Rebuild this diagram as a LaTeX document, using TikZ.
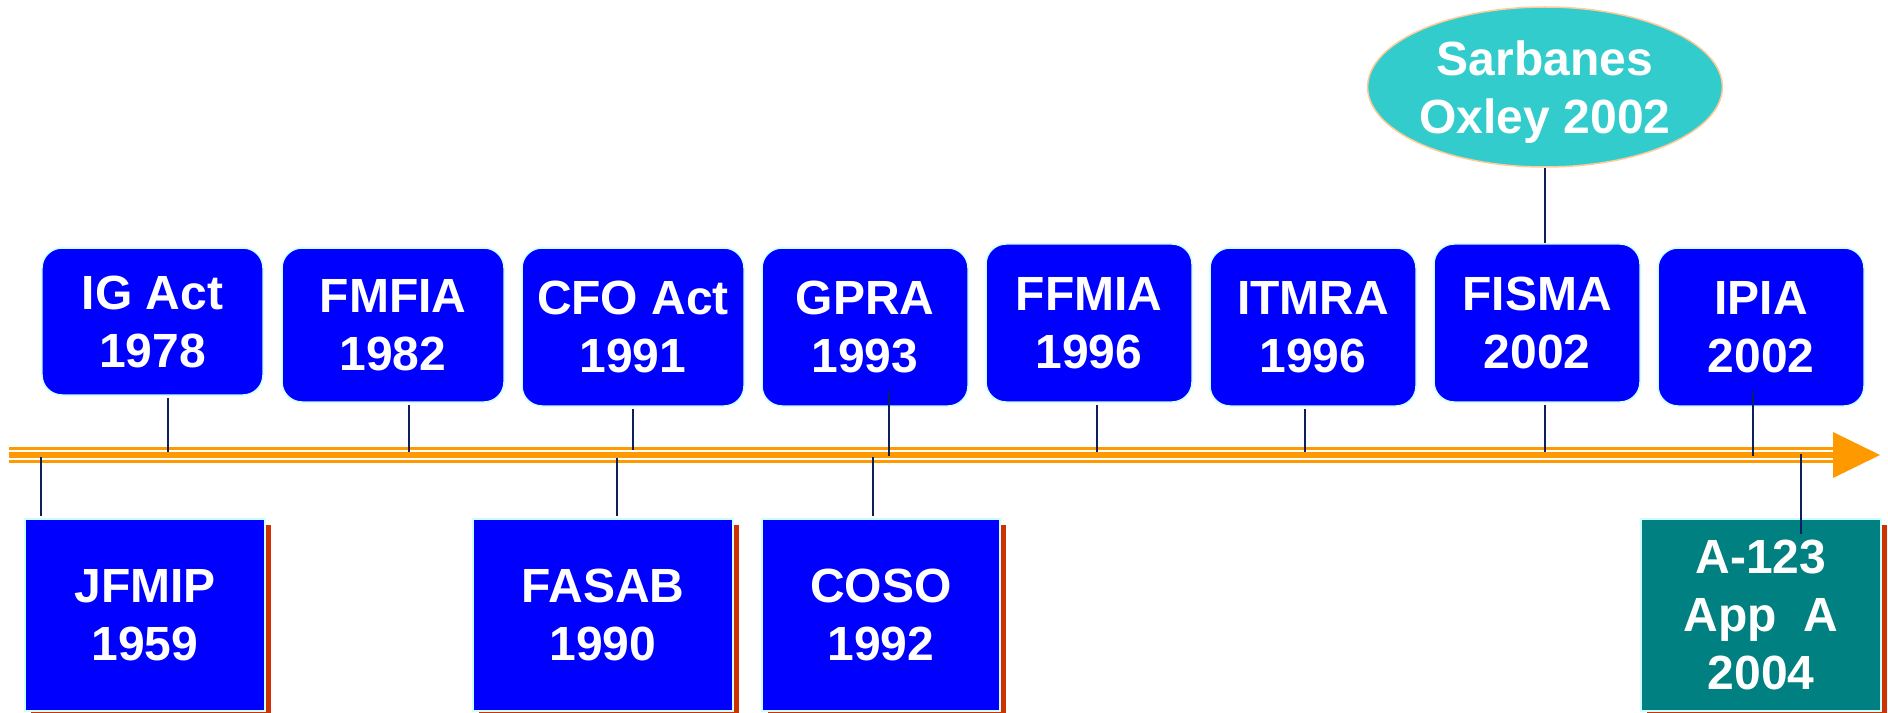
\documentclass[tikz,border=0pt]{standalone}
\usepackage{fontspec}
\setmainfont{Liberation Sans}
\usetikzlibrary{shapes.geometric,shadows}
\definecolor{boxblue}{HTML}{0000FF}
\definecolor{boxedge}{HTML}{CCFFFF}
\definecolor{tlorange}{HTML}{FF9900}
\definecolor{connnavy}{HTML}{0D1F5C}
\definecolor{shadowred}{HTML}{CC3300}
\definecolor{tealbox}{HTML}{008080}
\definecolor{ellfill}{HTML}{33CCCC}
\definecolor{elledge}{HTML}{FFCC99}
\begin{document}
\begin{tikzpicture}[x=1bp,y=-1bp,
  lbl/.style={text=white,font=\fontsize{48bp}{58bp}\selectfont\bfseries,align=center,inner sep=0pt},
  topbox/.style={lbl,draw=boxedge,line width=1.5bp,fill=boxblue,rounded corners=20bp},
  botbox/.style={lbl,draw=boxedge,line width=1.5bp,fill=boxblue,
    drop shadow={shadow xshift=6bp,shadow yshift=-6bp,fill=shadowred,opacity=1}},
  conn/.style={draw=connnavy,line width=2bp},
  tlline/.style={draw=tlorange}]
\useasboundingbox (0,0) rectangle (1888,713);

% timeline
\coordinate (tlS) at (9,455);
\coordinate (tlE) at (1833,455);
\draw[tlline,line width=2.6bp] ([yshift=6.5bp]tlS) -- ([yshift=6.5bp]tlE);
\draw[tlline,line width=5.4bp] (tlS) -- (tlE);
\draw[tlline,line width=2.4bp] ([yshift=-6.3bp]tlS) -- ([yshift=-6.3bp]tlE);
\fill[tlorange] (1833,432) -- (1880,455) -- (1833,478) -- cycle;

% top boxes
\node[topbox,minimum width=221bp,minimum height=147bp] (ig) at (152.5,321.5) {IG Act\\1978};
\node[topbox,minimum width=222bp,minimum height=154bp] (fmfia) at (393,325) {FMFIA\\1982};
\node[topbox,minimum width=222bp,minimum height=158bp] (cfo) at (633,327) {CFO Act\\1991};
\node[topbox,minimum width=206bp,minimum height=158bp] (gpra) at (865,327) {GPRA\\1993};
\node[topbox,minimum width=206bp,minimum height=158bp] (ffmia) at (1089,323) {FFMIA\\1996};
\node[topbox,minimum width=206bp,minimum height=158bp] (itmra) at (1313,327) {ITMRA\\1996};
\node[topbox,minimum width=206bp,minimum height=158bp] (fisma) at (1537,323) {FISMA\\2002};
\node[topbox,minimum width=206bp,minimum height=158bp] (ipia) at (1761,327) {IPIA\\2002};

% ellipse
\node[lbl,ellipse,fill=ellfill,draw=elledge,line width=1.5bp,minimum width=353bp,minimum height=160bp] (sox) at (1545,87) {Sarbanes\\\smash{Oxley 2002}};

% bottom boxes
\node[botbox,minimum width=240bp,minimum height=192bp] (jfmip) at (145,615) {JFMIP\\1959};
\node[botbox,minimum width=260bp,minimum height=192bp] (fasab) at (603,615) {FASAB\\1990};
\node[botbox,minimum width=238bp,minimum height=192bp] (coso) at (881,615) {COSO\\1992};
\node[botbox,fill=tealbox,minimum width=240bp,minimum height=192bp] (a123) at (1761,615) {A-123\\App\ \ A\\2004};

% timeline anchor points
\coordinate (t-ig) at (168,452);
\coordinate (t-fmfia) at (409,452);
\coordinate (t-cfo) at (633,450);
\coordinate (t-gpra) at (889,456);
\coordinate (t-ffmia) at (1097,452);
\coordinate (t-itmra) at (1305,452);
\coordinate (t-fisma) at (1545,452);
\coordinate (t-ipia) at (1753,456);
\coordinate (b-jfmip) at (41,457);
\coordinate (b-fasab) at (617,458);
\coordinate (b-coso) at (873,457);
\coordinate (b-a123) at (1801,454);

% connectors
\draw[conn] ([yshift=-2bp]ig.south -| t-ig) -- (t-ig);
\draw[conn] ([yshift=-2bp]fmfia.south -| t-fmfia) -- (t-fmfia);
\draw[conn] ([yshift=-2bp]cfo.south -| t-cfo) -- (t-cfo);
\path (gpra.south -| t-gpra) ++(0,-16) coordinate (gpra-in);
\draw[conn] (gpra-in) -- (t-gpra);
\draw[conn] ([yshift=-2bp]ffmia.south -| t-ffmia) -- (t-ffmia);
\draw[conn] ([yshift=-2bp]itmra.south -| t-itmra) -- (t-itmra);
\draw[conn] ([yshift=-2bp]fisma.south -| t-fisma) -- (t-fisma);
\path (ipia.south -| t-ipia) ++(0,-16) coordinate (ipia-in);
\draw[conn] (ipia-in) -- (t-ipia);
\draw[conn] (sox.south) -- (fisma.north -| sox.south);
\draw[conn] (b-jfmip) -- ([yshift=2bp]jfmip.north -| b-jfmip);
\draw[conn] (b-fasab) -- ([yshift=2bp]fasab.north -| b-fasab);
\draw[conn] (b-coso) -- ([yshift=2bp]coso.north -| b-coso);
\path (a123.north -| b-a123) ++(0,16) coordinate (a123-in);
\draw[conn] (b-a123) -- (a123-in);
\end{tikzpicture}
\end{document}
